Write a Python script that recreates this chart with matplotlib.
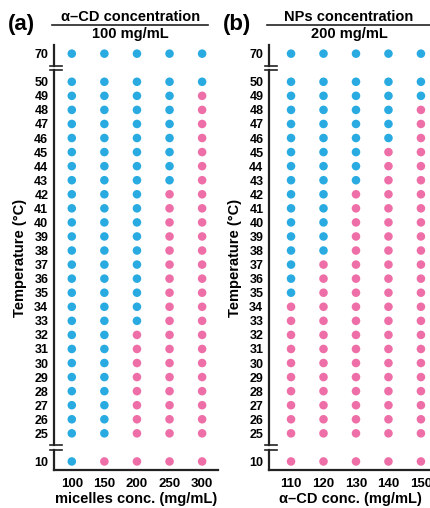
"""Phase diagram dots: blue above the transition temperature, pink below."""

import matplotlib

matplotlib.use("Agg")
import matplotlib.pyplot as plt

plt.rcParams["font.family"] = ["Liberation Sans", "DejaVu Sans"]
plt.rcParams["font.weight"] = "bold"

BLUE = "#29abe2"
PINK = "#ee6fa8"

TEMPS = [10] + list(range(25, 51)) + [70]

# panel (a): alpha-CD fixed at 100 mg/mL, micelle concentration varies
MICELLES = [100, 150, 200, 250, 300]
A_ONSET = [10, 25, 33, 43, 50]  # lowest temperature showing blue

# panel (b): NPs fixed at 200 mg/mL, alpha-CD concentration varies
CD = [110, 120, 130, 140, 150]
B_ONSET = [35, 38, 43, 46, 49]


def ypos(t):
    # 10 and 70 sit past an axis break
    if t == 10:
        return 0
    if t == 70:
        return 29
    return t - 23


def draw_panel(fig, rect, xs, onset, tag, head, sub, xlabel, xlo, xhi, line_x):
    ax = fig.add_axes(rect)
    for i, (x, on) in enumerate(zip(xs, onset)):
        ys = [ypos(t) for t in TEMPS]
        cs = [BLUE if t >= on else PINK for t in TEMPS]
        ax.scatter([i] * len(ys), ys, s=38, c=cs, linewidths=0, zorder=3)
    ylo, yhi = -0.6, 29.6
    ax.set_xlim(xlo, xhi)
    ax.set_ylim(ylo, yhi)
    ax.set_xticks(range(len(xs)))
    ax.set_xticklabels([str(x) for x in xs], fontsize=9.5, fontweight="bold")
    ax.set_yticks([ypos(t) for t in TEMPS])
    ax.set_yticklabels([str(t) for t in TEMPS], fontsize=9, fontweight="bold")
    ax.tick_params(length=0, pad=4)
    ax.tick_params(axis="x", pad=6)
    for s in ("top", "right", "left"):
        ax.spines[s].set_visible(False)
    ax.spines["bottom"].set_linewidth(1.6)
    ax.spines["bottom"].set_color("#222222")

    # broken left axis
    g = 0.15
    for a, b in [(ylo, 1 - g), (1 + g, 28 - g), (28 + g, yhi)]:
        ax.plot([xlo, xlo], [a, b], color="#222222", lw=1.6, clip_on=False)
    for yb in (1, 28):
        for d in (-g, g):
            ax.plot([xlo - 0.12, xlo + 0.25], [yb + d, yb + d], color="#222222",
                    lw=1.2, clip_on=False)

    ax.set_xlabel(xlabel, fontsize=10.5, fontweight="bold", labelpad=1)
    ax.set_ylabel("Temperature (\u00b0C)", fontsize=10.5, fontweight="bold", labelpad=5)

    # header: tag, fraction-style label
    l, b, w, h = rect
    fig.text(l - 0.075, 0.952, tag, fontsize=16, fontweight="bold", ha="center", va="center")
    cx = (line_x[0] + line_x[1]) / 2
    fig.text(cx, 0.966, head, fontsize=10.5, fontweight="bold", ha="center", va="center")
    fig.text(cx, 0.933, sub, fontsize=10.5, fontweight="bold", ha="center", va="center")
    fig.add_artist(plt.Line2D(line_x, [0.951, 0.951], color="#222222", lw=1.2))
    return ax


fig = plt.figure(figsize=(4.31, 5.08), dpi=100)

draw_panel(fig, [0.125, 0.075, 0.381, 0.836], MICELLES, A_ONSET, "(a)",
           "\u03b1\u2013CD concentration", "100 mg/mL", "micelles conc. (mg/mL)",
           -0.55, 4.49, (0.121, 0.483))
draw_panel(fig, [0.624, 0.075, 0.376, 0.836], CD, B_ONSET, "(b)",
           "NPs concentration", "200 mg/mL", "\u03b1\u2013CD conc. (mg/mL)",
           -0.68, 4.31, (0.620, 1.0))

fig.savefig("out.png", dpi=100)
